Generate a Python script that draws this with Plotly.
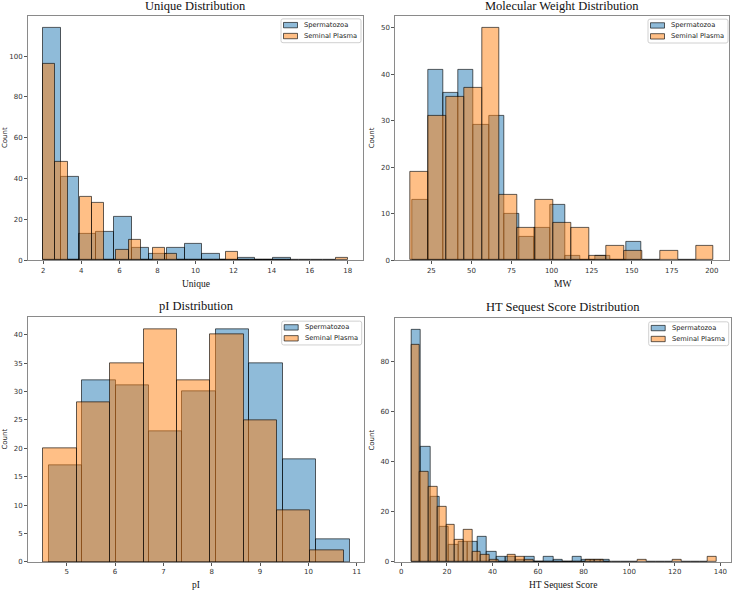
import numpy as np
import plotly.graph_objects as go

# ---------------- data ----------------
series_names = ["Spermatozoa", "Seminal Plasma"]

# Unique
unique_sp_range = [2.0, 15.0]
unique_sp_counts = [114, 41, 13, 14, 21, 6, 3, 6, 8, 3, 0, 1, 0, 1]
unique_pl_range = [2.0, 18.0]
unique_pl_counts = [96, 48, 0, 31, 28, 0, 5, 10, 0, 6, 3, 0, 0, 0, 0, 4,
                    0, 0, 0, 0, 0, 0, 0, 0, 1]

# Molecular weight
mw_sp_range = [13.4, 155.9]
mw_sp_counts = [13, 41, 36, 41, 29, 31, 10, 5, 7, 12, 1, 0, 1, 0, 4]
mw_pl_range = [12.0, 201.2]
mw_pl_counts = [19, 31, 35, 37, 50, 14, 7, 13, 8, 7, 1, 3, 2, 0, 2, 0, 3]

# pI
pi_sp_range = [4.63, 10.85]
pi_sp_counts = [17, 32, 31, 23, 30, 41, 35, 18, 4]
pi_pl_range = [4.52, 10.73]
pi_pl_counts = [20, 28, 35, 41, 32, 40, 25, 9, 2]

# HT Sequest score
ht_sp_range = [4.4, 91.6]
ht_sp_counts = [93, 46, 26, 14, 7, 8, 8, 10, 4, 2, 2, 1, 2, 0, 2, 1, 0, 2, 1, 1, 1]
ht_pl_range = [4.4, 138.4]
ht_pl_counts = [87, 36, 30, 22, 15, 9, 13, 4, 3, 1, 0, 3, 2, 1, 0, 0, 0, 0, 0, 0,
                1, 1, 0, 0, 0, 0, 1, 0, 0, 0, 1, 0, 0, 0, 2]

titles = ["Unique Distribution", "Molecular Weight Distribution",
          "pI Distribution", "HT Sequest Score Distribution"]
xlabels = ["Unique", "MW", "pI", "HT Sequest Score"]
ylabel = "Count"

# ---------------- styling ----------------
W, H = 736, 595
fill_colors = ["rgba(31,119,180,0.5)", "rgba(255,127,14,0.5)"]
edge_color = "rgba(0,0,0,0.62)"
serif = "Liberation Serif, Times New Roman, serif"
sans = "DejaVu Sans, sans-serif"

# panel frames in pixels: (left, right, top, bottom)
frames = [(28, 363, 16, 262), (395.3, 729, 16, 262),
          (28, 364, 319.5, 565.7), (394.7, 731.3, 320, 565.7)]
xranges = [[1.2, 18.8], [2.5, 210.7], [4.2, 11.15], [-2.9, 144.8]]
yranges = [[0, 119.7], [0, 52.5], [0, 43.05], [0, 97.65]]
xtickvals = [list(range(2, 19, 2)), list(range(25, 201, 25)),
             list(range(5, 12)), list(range(0, 141, 20))]
ytickvals = [list(range(0, 101, 20)), list(range(0, 51, 10)),
             list(range(0, 41, 5)), list(range(0, 81, 20))]
title_cy = [6, 6, 308.5, 309]
xlabel_cy = [285.5, 285.5, 589, 589]
legend_box = [(361, 19), (728, 19.3), (361.7, 323.3), (728.7, 324)]  # right, top px

panels = [
    ((unique_sp_range, unique_sp_counts), (unique_pl_range, unique_pl_counts)),
    ((mw_sp_range, mw_sp_counts), (mw_pl_range, mw_pl_counts)),
    ((pi_sp_range, pi_sp_counts), (pi_pl_range, pi_pl_counts)),
    ((ht_sp_range, ht_sp_counts), (ht_pl_range, ht_pl_counts)),
]


def px(xp):
    return xp / W


def py(yp):
    return 1 - yp / H


fig = go.Figure()
annotations = []
shapes = []
layout = {}

for i, panel in enumerate(panels):
    n = i + 1
    xa = "x" if n == 1 else f"x{n}"
    ya = "y" if n == 1 else f"y{n}"
    for s, (rng, counts) in enumerate(panel):
        edges = np.linspace(rng[0], rng[1], len(counts) + 1)
        centers = (edges[:-1] + edges[1:]) / 2
        widths = np.diff(edges)
        fig.add_trace(go.Bar(
            x=centers, y=counts, width=widths,
            name=series_names[s], showlegend=False,
            marker=dict(color=fill_colors[s],
                        line=dict(color=edge_color, width=1)),
            xaxis=xa, yaxis=ya,
        ))
    l, r, t, b = frames[i]
    axx = "xaxis" if n == 1 else f"xaxis{n}"
    axy = "yaxis" if n == 1 else f"yaxis{n}"
    common = dict(showgrid=False, zeroline=False, showline=True, mirror=True,
                  linecolor="#8a8a8a", linewidth=1, ticks="outside", ticklen=3,
                  tickcolor="#555", tickfont=dict(family=sans, size=7, color="#333"))
    layout[axx] = dict(domain=[l / W, r / W], anchor=ya, range=xranges[i],
                       tickvals=xtickvals[i], **common)
    layout[axy] = dict(domain=[1 - b / H, 1 - t / H], anchor=xa, range=yranges[i],
                       tickvals=ytickvals[i], **common)

    # title
    annotations.append(dict(text=titles[i], xref="paper", yref="paper",
                            x=px((l + r) / 2), y=py(title_cy[i]),
                            xanchor="center", yanchor="middle", showarrow=False,
                            font=dict(family=serif, size=12.5, color="#111")))
    # x label
    annotations.append(dict(text=xlabels[i], xref="paper", yref="paper",
                            x=px((l + r) / 2), y=py(xlabel_cy[i]),
                            xanchor="center", yanchor="middle", showarrow=False,
                            font=dict(family=serif, size=9.5, color="#111")))
    # y label
    annotations.append(dict(text=ylabel, xref="paper", yref="paper",
                            x=px(l - 23), y=py((t + b) / 2),
                            xanchor="center", yanchor="middle", showarrow=False,
                            textangle=-90,
                            font=dict(family=sans, size=7, color="#222")))

    # legend (drawn as a matplotlib-style box)
    rx, ty = legend_box[i]
    lx, by = rx - 80, ty + 24
    rr = 2.0
    path = (f"M {px(lx + rr)} {py(ty)} L {px(rx - rr)} {py(ty)} "
            f"Q {px(rx)} {py(ty)} {px(rx)} {py(ty + rr)} "
            f"L {px(rx)} {py(by - rr)} Q {px(rx)} {py(by)} {px(rx - rr)} {py(by)} "
            f"L {px(lx + rr)} {py(by)} Q {px(lx)} {py(by)} {px(lx)} {py(by - rr)} "
            f"L {px(lx)} {py(ty + rr)} Q {px(lx)} {py(ty)} {px(lx + rr)} {py(ty)} Z")
    shapes.append(dict(type="path", path=path, xref="paper", yref="paper",
                       fillcolor="rgba(255,255,255,0.8)",
                       line=dict(color="#d0d0d0", width=1), layer="above"))
    for s in range(2):
        cy = ty + 6.3 + s * 11
        shapes.append(dict(type="rect", xref="paper", yref="paper",
                           x0=px(lx + 2.5), x1=px(lx + 16.5),
                           y0=py(cy - 2.7), y1=py(cy + 2.7),
                           fillcolor=fill_colors[s],
                           line=dict(color=edge_color, width=1), layer="above"))
        annotations.append(dict(text=series_names[s], xref="paper", yref="paper",
                                x=px(lx + 21), y=py(cy),
                                xanchor="left", yanchor="middle", showarrow=False,
                                font=dict(family=sans, size=6.7, color="#222")))

fig.update_layout(
    width=W, height=H, margin=dict(l=0, r=0, t=0, b=0),
    paper_bgcolor="white", plot_bgcolor="white",
    barmode="overlay", bargap=0, showlegend=False,
    annotations=annotations, shapes=shapes,
    **layout,
)

fig.write_html("out.html")
